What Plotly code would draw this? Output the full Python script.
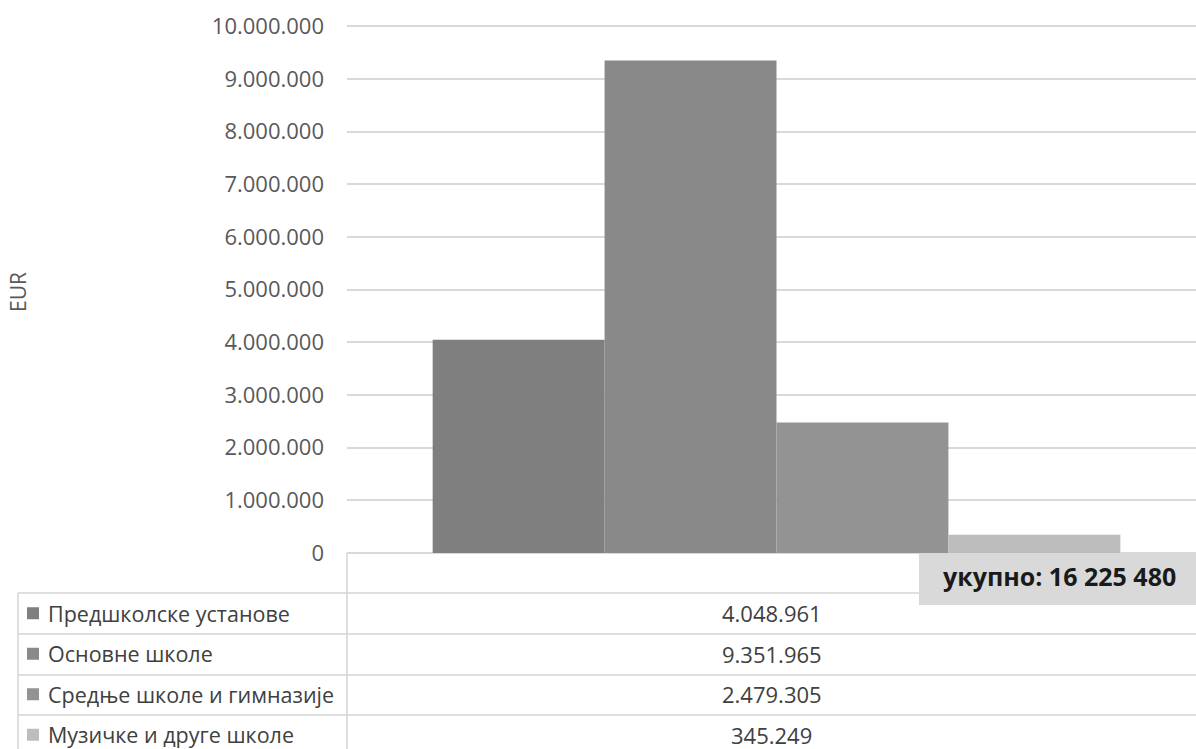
import plotly.graph_objects as go

categories = ["Предшколске установе", "Основне школе", "Средње школе и гимназије", "Музичке и друге школе"]
values = [4048961, 9351965, 2479305, 345249]
colors = ["#7f7f7f", "#898989", "#939393", "#bdbdbd"]
y_ticks = [0, 1000000, 2000000, 3000000, 4000000, 5000000, 6000000, 7000000, 8000000, 9000000, 10000000]
y_title = "EUR"
total_label = "укупно: "

W, H = 1196, 749
L, R, T, B = 347, 0, 21, 196
PW, PH = W - L - R, H - T - B


def px(x):
    return (x - L) / PW


def py(y):
    return (H - B - y) / PH


FONT = "Open Sans"
fig = go.Figure()
for name, v, c in zip(categories, values, colors):
    fig.add_trace(go.Bar(x=[0], y=[v], name=name, marker=dict(color=c, line=dict(width=0)),
                         showlegend=False, hoverinfo="y+name"))

fig.update_layout(
    width=W, height=H,
    margin=dict(l=L, r=R, t=T, b=B),
    paper_bgcolor="white", plot_bgcolor="white",
    barmode="group", bargap=0.19, bargroupgap=0,
    separators=",.",
    font=dict(family=FONT, size=22, color="#595959"),
)
shift = 5 / PW
fig.update_xaxes(range=[-0.5 - shift, 0.5 - shift], showticklabels=False, showgrid=False, zeroline=False,
                 showline=False, fixedrange=True)
fig.update_yaxes(range=[0, 10100000], tickvals=y_ticks, tickformat=",d",
                 showgrid=True, gridcolor="#d9d9d9", gridwidth=1.5,
                 zeroline=True, zerolinecolor="#d9d9d9", zerolinewidth=1.5,
                 showline=False, ticklabelstandoff=22,
                 tickfont=dict(family=FONT, size=22, color="#595959"))

shapes = []
line_c = "#d4d4d4"
shapes.append(dict(type="line", xref="paper", yref="paper", x0=px(347), x1=px(347), y0=py(553), y1=py(760),
                   line=dict(color=line_c, width=1.5)))
shapes.append(dict(type="line", xref="paper", yref="paper", x0=px(18), x1=px(18), y0=py(593), y1=py(760),
                   line=dict(color=line_c, width=1.5)))
row_tops = [593, 634, 675, 715]
for yy in row_tops:
    shapes.append(dict(type="line", xref="paper", yref="paper", x0=px(18), x1=px(W + 5), y0=py(yy), y1=py(yy),
                       line=dict(color=line_c, width=1.5)))

annotations = []
row_h = 40.5
for i, (name, v, c) in enumerate(zip(categories, values, colors)):
    cy = row_tops[0] + row_h * (i + 0.5)
    shapes.append(dict(type="rect", xref="paper", yref="paper", x0=px(27), x1=px(39), y0=py(cy - 6), y1=py(cy + 6),
                       fillcolor=c, line=dict(width=0)))
    annotations.append(dict(xref="paper", yref="paper", x=px(46), y=py(cy), text=name, showarrow=False,
                            xanchor="left", yanchor="middle", font=dict(family=FONT, size=21.5, color="#404040")))
    annotations.append(dict(xref="paper", yref="paper", x=px((347 + W) / 2), y=py(cy),
                            text=f"{v:,}".replace(",", "."), showarrow=False,
                            xanchor="center", yanchor="middle", font=dict(family=FONT, size=22, color="#404040")))

shapes.append(dict(type="rect", xref="paper", yref="paper", x0=px(919), x1=px(W + 5), y0=py(605), y1=py(554),
                   fillcolor="#d9d9d9", line=dict(width=0)))
total = sum(values)
annotations.append(dict(xref="paper", yref="paper", x=px(941), y=py(576),
                        text="<b>" + total_label + f"{total:,}".replace(",", " ") + "</b>",
                        showarrow=False, xanchor="left", yanchor="middle",
                        font=dict(family=FONT, size=25, color="#1a1a1a")))
annotations.append(dict(xref="paper", yref="paper", x=px(18), y=py(292), text=y_title, textangle=-90,
                        showarrow=False, xanchor="center", yanchor="middle",
                        font=dict(family=FONT, size=21, color="#595959")))

fig.update_layout(shapes=shapes, annotations=annotations)
fig.write_html("out.html", config={"displayModeBar": False},
               post_script="document.body.style.margin='0';document.body.style.overflow='hidden';")
